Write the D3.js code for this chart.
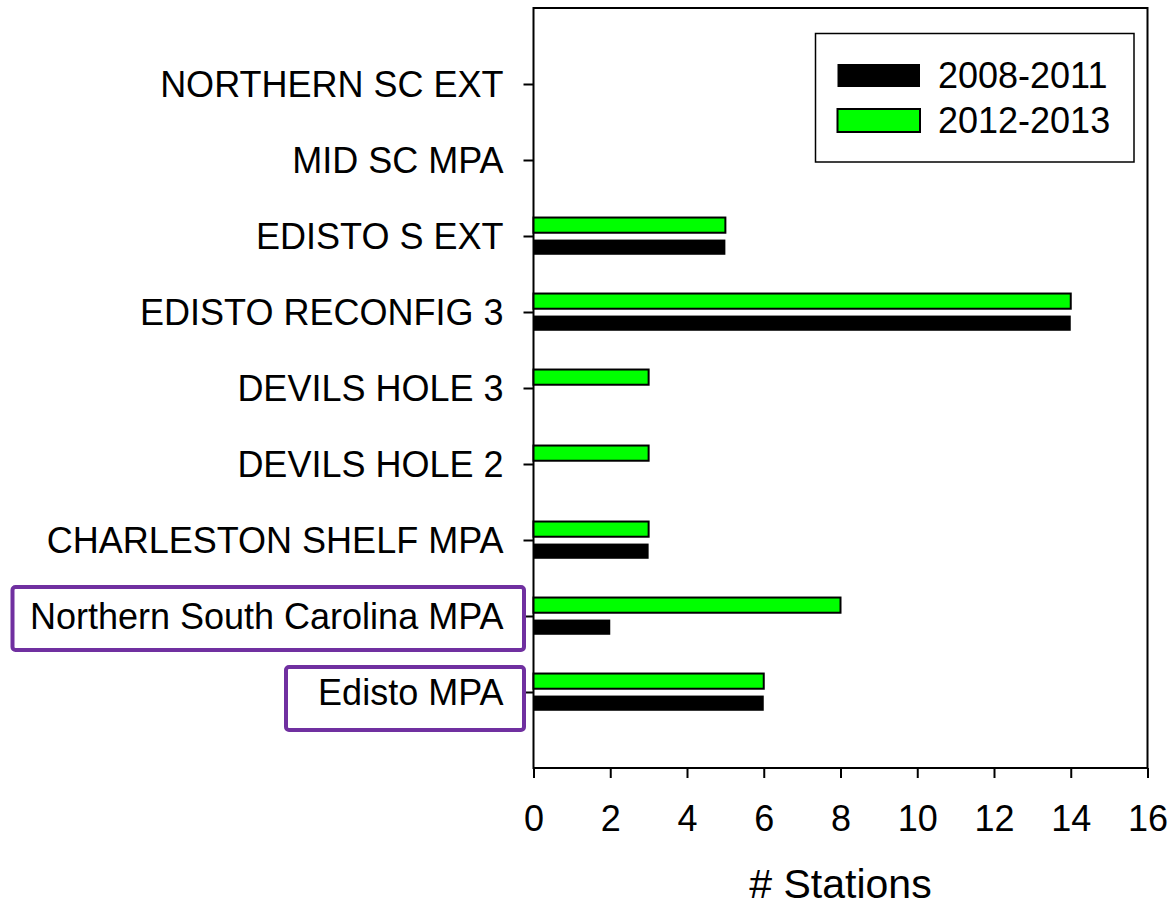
<!DOCTYPE html>
<html>
<head>
<meta charset="utf-8">
<script src="https://cdn.jsdelivr.net/npm/d3@7"></script>
<style>
  html, body { margin: 0; padding: 0; background: #fff; }
  svg { display: block; font-family: Arial, "Liberation Sans", sans-serif; }
</style>
</head>
<body>
<svg id="chart" width="1173" height="907"></svg>
<script>
// ---- data (bottom to top) ----
const categories = [
  "Edisto MPA",
  "Northern South Carolina MPA",
  "CHARLESTON SHELF MPA",
  "DEVILS HOLE 2",
  "DEVILS HOLE 3",
  "EDISTO RECONFIG 3",
  "EDISTO S EXT",
  "MID SC MPA",
  "NORTHERN SC EXT"
];
const series2008_2011 = [6, 2, 3, 0, 0, 14, 5, 0, 0];
const series2012_2013 = [6, 8, 3, 3, 3, 14, 5, 0, 0];
const seriesNames = ["2008-2011", "2012-2013"];
const xTicks = [0, 2, 4, 6, 8, 10, 12, 14, 16];
const xTitle = "# Stations";
const highlighted = ["Northern South Carolina MPA", "Edisto MPA"];

// ---- layout ----
const svg = d3.select("#chart");
const pLeft = 533.5, pRight = 1147.5, pTop = 8, pBottom = 768;

const x = d3.scaleLinear().domain([0, 16]).range([pLeft, pRight]);
const y = d3.scaleLinear().domain([0, categories.length + 1]).range([pBottom, pTop]);

const colors = { "2008-2011": "#000000", "2012-2013": "#00ff00" };
const FONT = 36;

// frame
svg.append("rect")
  .attr("x", pLeft).attr("y", pTop)
  .attr("width", pRight - pLeft).attr("height", pBottom - pTop)
  .attr("fill", "none").attr("stroke", "#000").attr("stroke-width", 2);

// bars
const barH = y(0) - y(0.2);
categories.forEach((c, i) => {
  const k = i + 1;
  const vals = [
    { s: "2012-2013", v: series2012_2013[i], yy: y(k + 0.243) },
    { s: "2008-2011", v: series2008_2011[i], yy: y(k - 0.047) }
  ];
  vals.forEach(d => {
    if (d.v <= 0) return;
    const r = svg.append("rect")
      .attr("x", x(0)).attr("y", d.yy)
      .attr("width", x(d.v) - x(0)).attr("height", barH)
      .attr("fill", colors[d.s]);
    if (d.s === "2012-2013") r.attr("stroke", "#000").attr("stroke-width", 2);
  });
});

// y axis
const yAxis = d3.axisLeft(y)
  .tickValues(categories.map((c, i) => i + 1))
  .tickFormat((d) => categories[d - 1])
  .tickSize(10).tickPadding(20);
const yg = svg.append("g").attr("transform", `translate(${pLeft},0)`).call(yAxis);
yg.select(".domain").remove();
yg.selectAll(".tick line").attr("stroke", "#000").attr("stroke-width", 2);
yg.selectAll(".tick text").attr("font-size", FONT).attr("fill", "#000")
  .attr("font-family", "Arial, 'Liberation Sans', sans-serif")
  .attr("dy", "0.35em");

// x axis
const xAxis = d3.axisBottom(x).tickValues(xTicks).tickSize(10).tickPadding(27);
const xg = svg.append("g").attr("transform", `translate(0,${pBottom})`).call(xAxis);
xg.select(".domain").remove();
xg.selectAll(".tick line").attr("stroke", "#000").attr("stroke-width", 2);
xg.selectAll(".tick text").attr("font-size", FONT).attr("fill", "#000")
  .attr("font-family", "Arial, 'Liberation Sans', sans-serif");

// x title
svg.append("text")
  .attr("x", (pLeft + pRight) / 2).attr("y", 898)
  .attr("text-anchor", "middle")
  .attr("font-size", 41)
  .text(xTitle);

// highlight boxes
const boxLeft = { "Northern South Carolina MPA": 12.5, "Edisto MPA": 286 };
const boxShift = { "Northern South Carolina MPA": 2.5, "Edisto MPA": 6.5 };
highlighted.forEach(name => {
  const k = categories.indexOf(name) + 1;
  const cy = y(k) + boxShift[name];
  svg.append("rect")
    .attr("x", boxLeft[name]).attr("y", cy - 31.5)
    .attr("width", 524 - boxLeft[name]).attr("height", 63)
    .attr("rx", 3).attr("ry", 3)
    .attr("fill", "none").attr("stroke", "#7030a0").attr("stroke-width", 4);
});

// legend
const lg = svg.append("g");
lg.append("rect").attr("x", 815.5).attr("y", 33.5).attr("width", 318.5).attr("height", 128.5)
  .attr("fill", "#fff").attr("stroke", "#000").attr("stroke-width", 1.5);
seriesNames.forEach((s, i) => {
  const sy = 64 + i * 45;
  const r = lg.append("rect").attr("x", 837.5).attr("y", sy)
    .attr("width", 82.5).attr("height", 23).attr("fill", colors[s]);
  if (s === "2012-2013") r.attr("stroke", "#000").attr("stroke-width", 2);
  lg.append("text").attr("x", 938).attr("y", sy + 11.5).attr("dy", "0.35em")
    .attr("font-size", FONT).text(s);
});
</script>
</body>
</html>
